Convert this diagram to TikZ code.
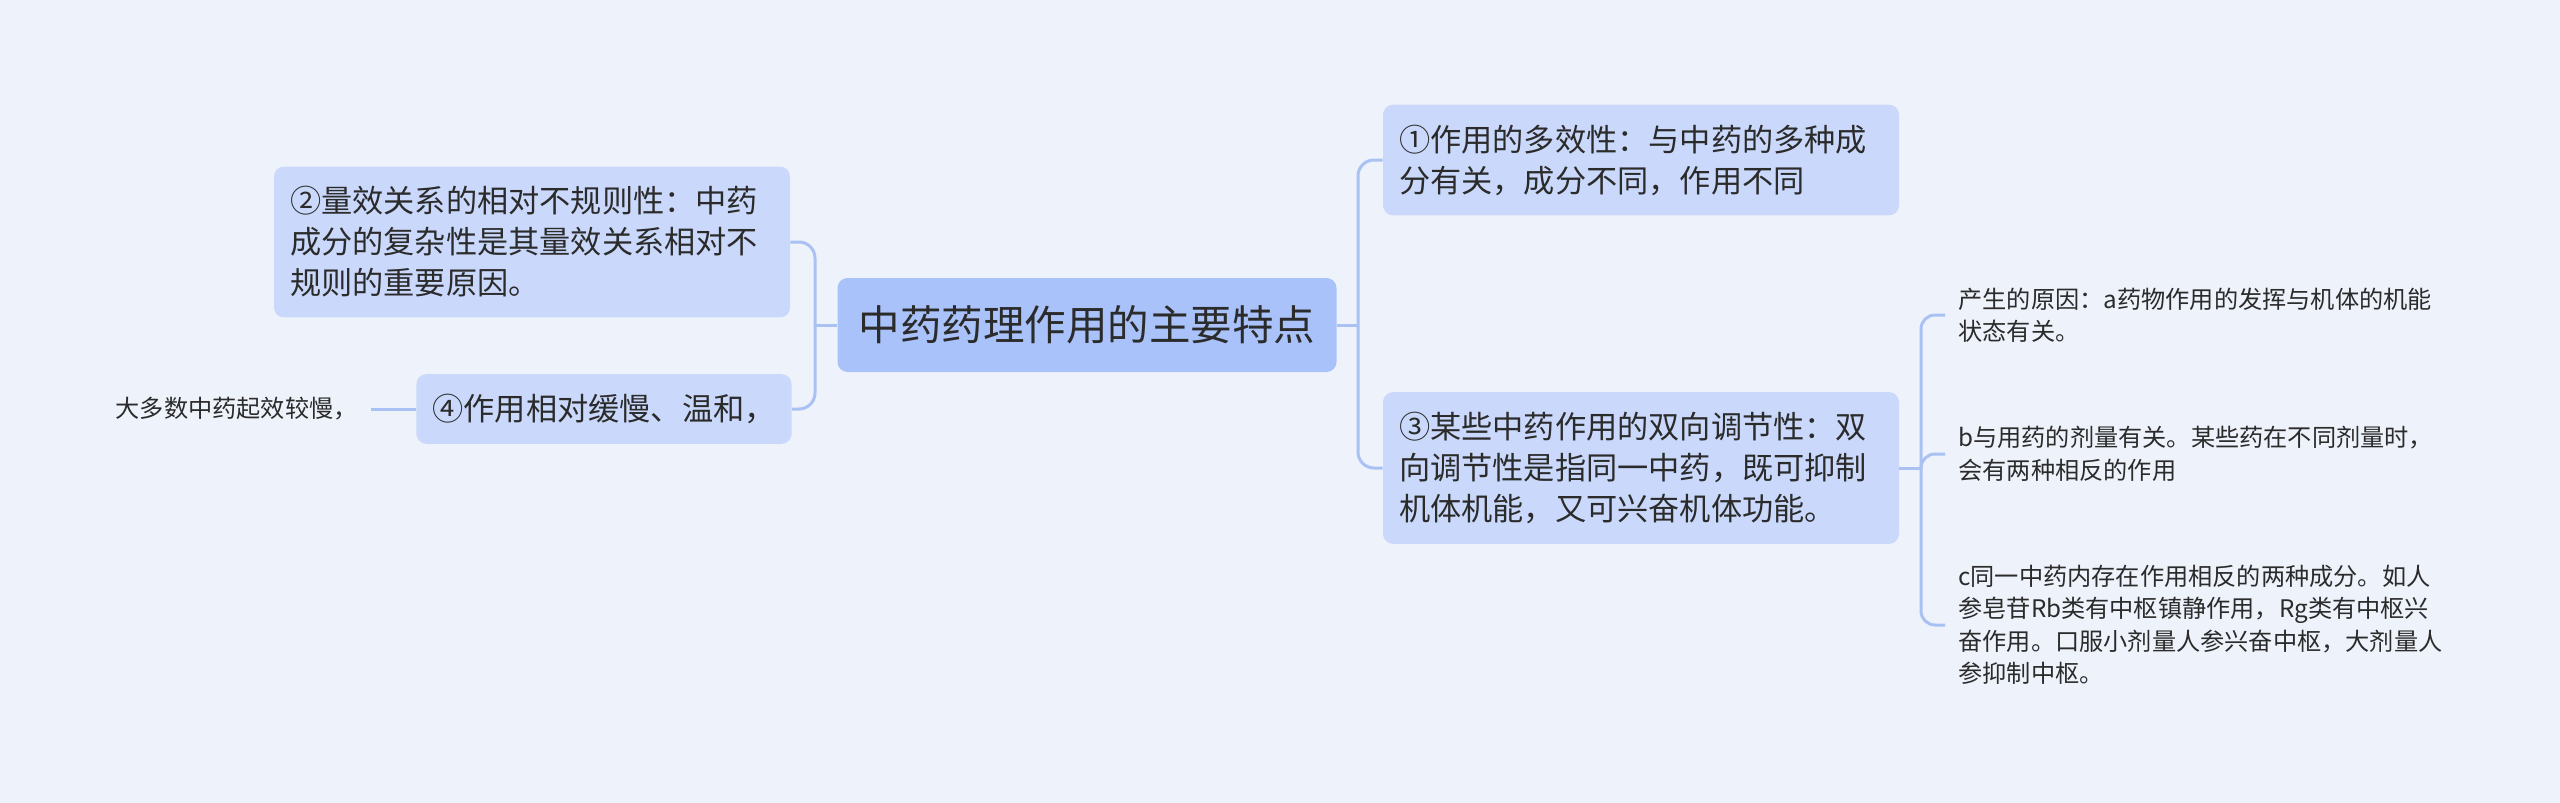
\documentclass[tikz,border=0pt]{standalone}
\usepackage{xcolor}
\usepackage{fontspec}
\usepackage{tikz}
\newfontfamily\cjk{Noto Sans CJK SC}
\definecolor{paper}{HTML}{EEF3FB}
\definecolor{rootfill}{HTML}{A9C2F9}
\definecolor{topicfill}{HTML}{CAD9FB}
\definecolor{linkblue}{HTML}{A9C1F3}
\definecolor{ink}{HTML}{2B2B2B}
\tikzset{
	rootbox/.style={
		fill=rootfill,
		rounded corners=5pt,
		text=ink,
		inner sep=0pt,
		minimum width=249.5pt,
		minimum height=47pt,
		font=\cjk\fontsize{20.75}{25}\selectfont
	},
	topicbox/.style={
		fill=topicfill,
		rounded corners=5pt,
		text=ink,
		inner xsep=8pt,
		inner ysep=10pt,
		align=left,
		font=\cjk\fontsize{15.6}{20.5}\selectfont
	},
	leafnote/.style={
		text=ink,
		inner xsep=6.5pt,
		inner ysep=0pt,
		align=left,
		font=\cjk\fontsize{12.1}{16.25}\selectfont
	},
	link/.style={draw=linkblue, line width=1.5pt, rounded corners=8pt}
}

\begin{document}
\begin{tikzpicture}[x=0.5pt, y=-0.5pt]
\fill[paper] (0,0) rectangle (2560,803);
\useasboundingbox (0,0) rectangle (2560,803);

\node[rootbox] (root) at (1087,325) {中药药理作用的主要特点};

\node[topicbox, text width=242pt] (multi) at (1641,160) {①作用的多效性：与中药的多种成\\分有关，成分不同，作用不同};
\node[topicbox, text width=242pt] (dual) at (1641,468) {③某些中药作用的双向调节性：双\\向调节性是指同一中药，既可抑制\\机体机能，又可兴奋机体功能。};
\node[topicbox, text width=242pt] (dose) at (532,242) {②量效关系的相对不规则性：中药\\成分的复杂性是其量效关系相对不\\规则的重要原因。};
\node[topicbox] (slow) at (604,409) {④作用相对缓慢、温和，};

\node[leafnote, anchor=east] (slownote) at (371,409) {大多数中药起效较慢，};
\node[leafnote, anchor=west] (cause) at (1945,315) {产生的原因：a药物作用的发挥与机体的机能\\状态有关。};
\node[leafnote, anchor=west] (amount) at (1945,454) {b与用药的剂量有关。某些药在不同剂量时，\\会有两种相反的作用};
\node[leafnote, anchor=west] (parts) at (1945,625) {c同一中药内存在作用相反的两种成分。如人\\参皂苷Rb类有中枢镇静作用，Rg类有中枢兴\\奋作用。口服小剂量人参兴奋中枢，大剂量人\\参抑制中枢。};

\coordinate (rfork) at (1358,325);
\coordinate (lfork) at (815,325);
\coordinate (dfork) at (1921,468);

\draw[link] (root.east) -- (rfork);
\draw[link] (rfork) |- (multi.west);
\draw[link] (rfork) |- (dual.west);
\draw[link] (root.west) -- (lfork);
\draw[link] (lfork) |- (dose.east);
\draw[link] (lfork) |- (slow.east);
\draw[link] (slow.west) -- (slownote.east);
\draw[link] (dual.east) -- (dfork);
\draw[link, rounded corners=7pt] (dfork) |- (cause.west);
\draw[link, rounded corners=7pt] (dfork) |- (amount.west);
\draw[link, rounded corners=7pt] (dfork) |- (parts.west);
\end{tikzpicture}
\end{document}
